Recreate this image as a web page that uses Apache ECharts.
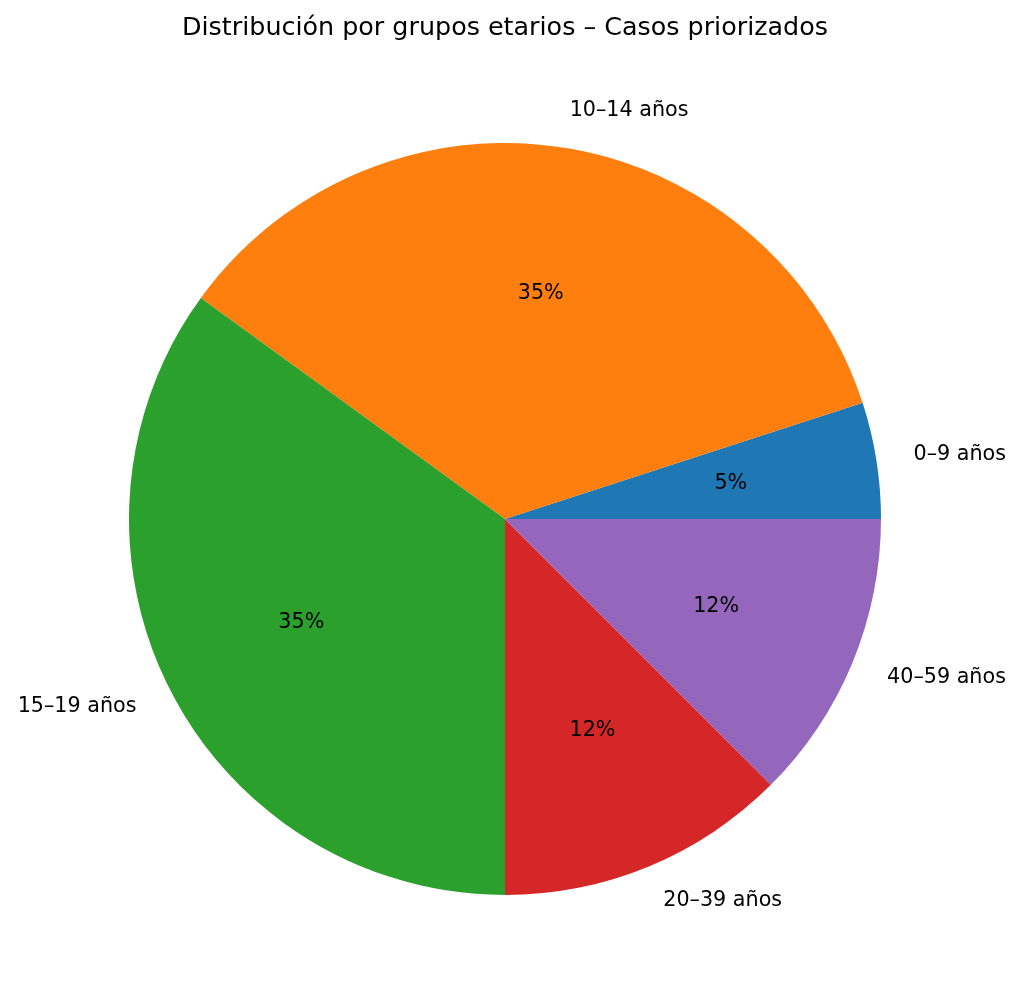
<!DOCTYPE html>
<html>
<head>
<meta charset="utf-8">
<script src="https://cdn.jsdelivr.net/npm/echarts@6/dist/echarts.min.js"></script>
<style>
html,body{margin:0;padding:0;background:#fff;}
#chart{width:1024px;height:1004px;}
</style>
</head>
<body>
<div id="chart"></div>
<script>
const categories = ['0–9 años', '10–14 años', '15–19 años', '20–39 años', '40–59 años'];
const values = [2, 14, 14, 5, 5];
const colors = ['#1f77b4', '#ff7f0e', '#2ca02c', '#d62728', '#9467bd'];
const titleText = 'Distribución por grupos etarios – Casos priorizados';

const FONT = 'DejaVu Sans';
const R = 376;
const CX = 505, CY = 519;

function roundHalfEven(x) {
  const f = Math.floor(x);
  const d = x - f;
  if (Math.abs(d - 0.5) < 1e-9) return (f % 2 === 0) ? f : f + 1;
  return Math.round(x);
}

const baseData = categories.map((c, i) => ({ name: c, value: values[i] }));

const chart = echarts.init(document.getElementById('chart'));
chart.setOption({
  animation: false,
  backgroundColor: '#ffffff',
  title: {
    text: titleText,
    left: 182,
    top: 16,
    padding: 0,
    textStyle: { fontFamily: FONT, fontSize: 25.4, fontWeight: 'normal', color: '#000' }
  },
  color: colors,
  series: [
    {
      type: 'pie',
      center: [CX, CY],
      radius: [0, R],
      startAngle: 0,
      clockwise: false,
      avoidLabelOverlap: false,
      silent: true,
      itemStyle: { borderWidth: 0 },
      label: {
        show: true,
        position: 'outside',
        formatter: '{b}',
        fontFamily: FONT,
        fontSize: 20.7,
        color: '#000',
        distanceToLabelLine: 0
      },
      labelLine: { show: false, length: R * 0.1, length2: 0 },
      emphasis: { disabled: true },
      data: baseData
    },
    {
      type: 'pie',
      center: [CX, CY],
      radius: [0, R * 1.2],
      startAngle: 0,
      clockwise: false,
      avoidLabelOverlap: false,
      silent: true,
      itemStyle: { color: 'transparent', borderWidth: 0 },
      label: {
        show: true,
        position: 'inside',
        formatter: p => roundHalfEven(p.percent) + '%',
        fontFamily: FONT,
        fontSize: 20.7,
        color: '#000'
      },
      labelLine: { show: false },
      emphasis: { disabled: true },
      data: baseData
    }
  ]
});
</script>
</body>
</html>
